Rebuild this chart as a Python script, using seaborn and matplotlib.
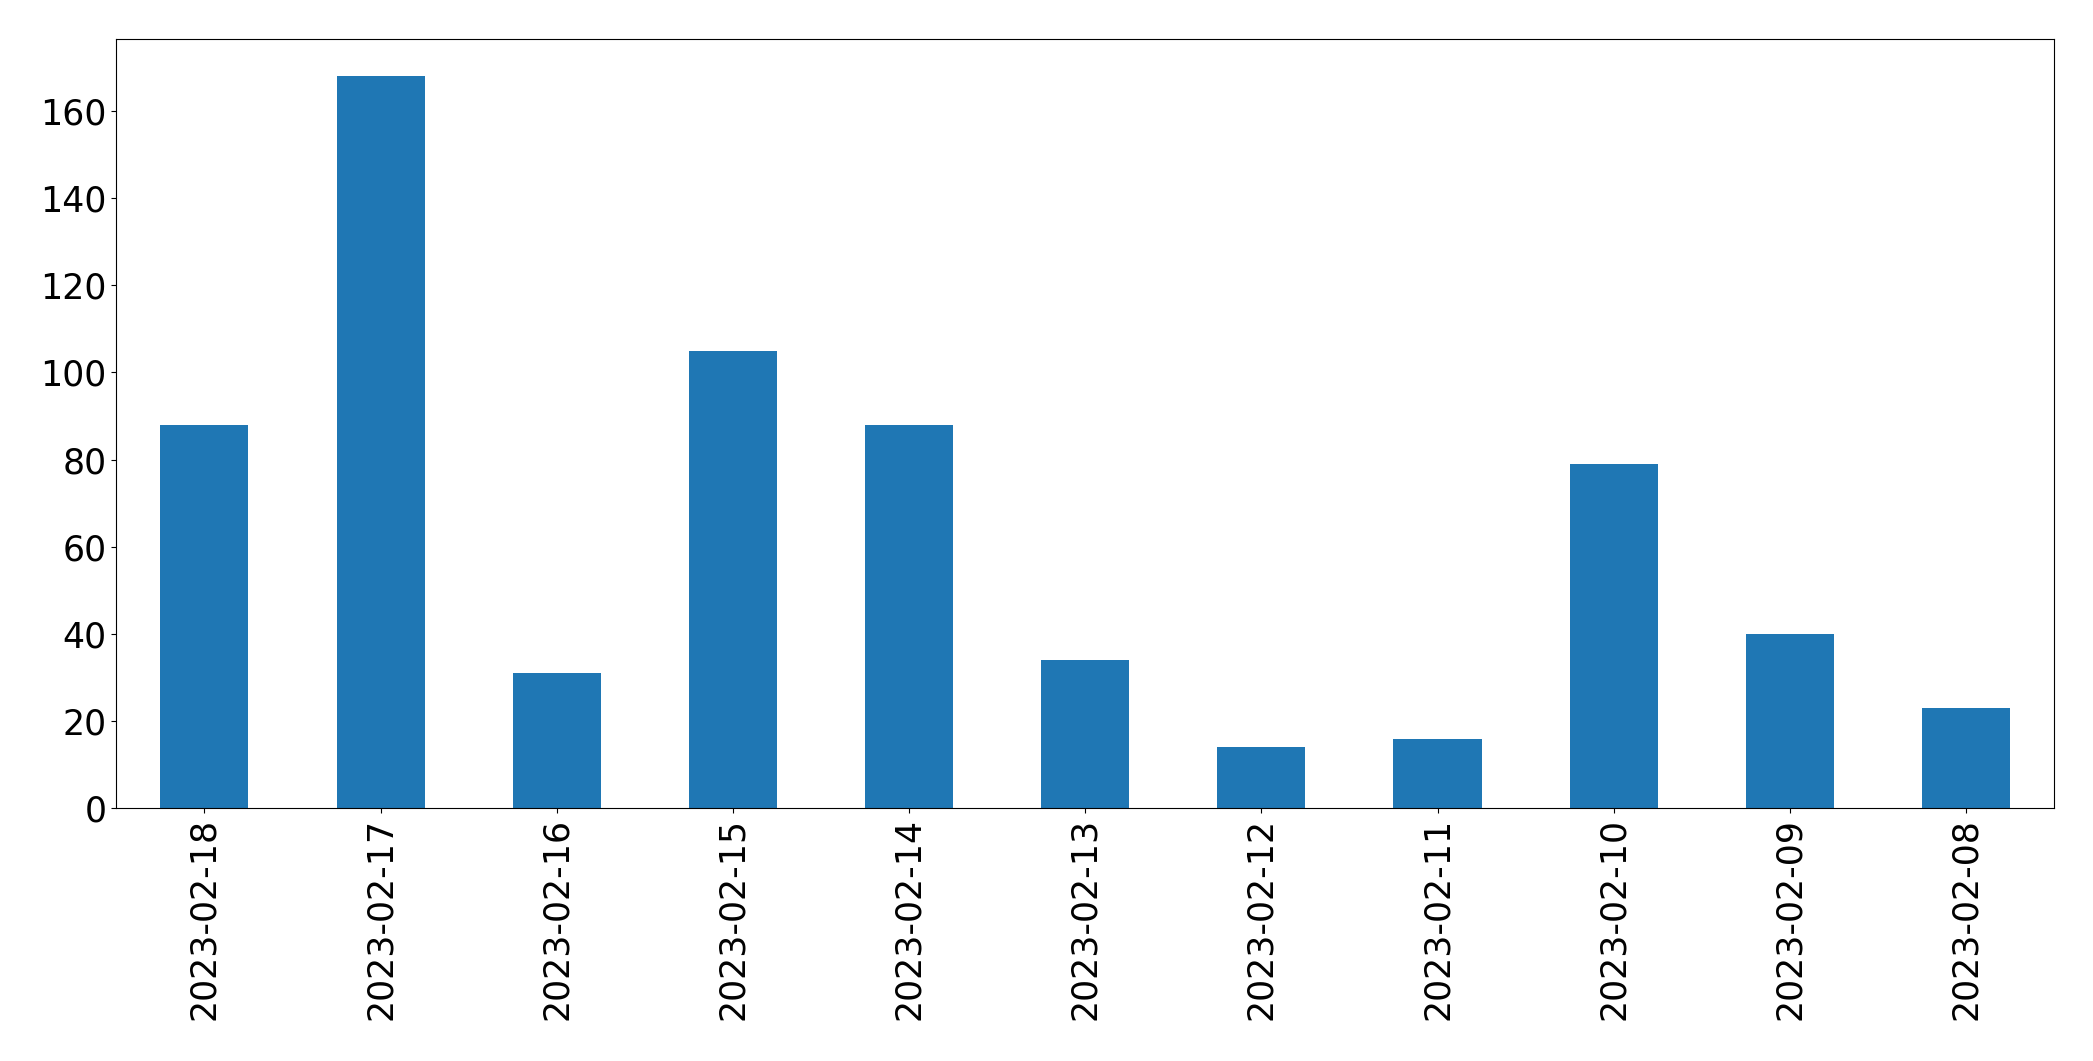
import matplotlib
matplotlib.use("Agg")
import matplotlib.pyplot as plt
import seaborn as sns
import pandas as pd

dates = ["2023-02-18", "2023-02-17", "2023-02-16", "2023-02-15", "2023-02-14",
         "2023-02-13", "2023-02-12", "2023-02-11", "2023-02-10", "2023-02-09",
         "2023-02-08"]
counts = [88, 168, 31, 105, 88, 34, 14, 16, 79, 40, 23]

df = pd.DataFrame({"date": dates, "count": counts})

fig = plt.figure(figsize=(20.93, 10.61), dpi=100)
ax = fig.add_axes([0.0556, 0.2382, 0.9258, 0.7248])
sns.barplot(data=df, x="date", y="count", order=dates, color="#1f77b4",
            saturation=1, width=0.5, ax=ax)
ax.set_xlabel("")
ax.set_ylabel("")
ax.set_xlim(-0.5, len(dates) - 0.5)
ax.set_ylim(0, max(counts) * 1.05)
ax.tick_params(axis="both", labelsize=25)
plt.setp(ax.get_xticklabels(), rotation=90)
fig.savefig("out.png", dpi=100)
